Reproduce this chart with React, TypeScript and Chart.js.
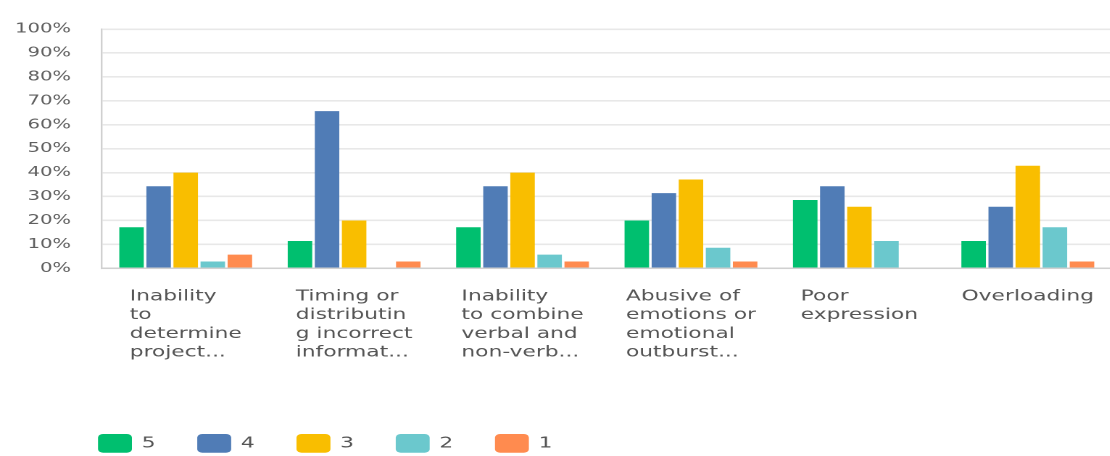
import React, { useEffect, useRef } from "react";
import { Chart, registerables } from "chart.js";

Chart.register(...registerables);

// ---- data ----
const categories: string[][] = [
  ["Inability", "to", "determine", "project..."],
  ["Timing or", "distributin", "g incorrect", "informat..."],
  ["Inability", "to combine", "verbal and", "non-verb..."],
  ["Abusive of", "emotions or", "emotional", "outburst..."],
  ["Poor", "expression"],
  ["Overloading"],
];
const seriesLabels = ["5", "4", "3", "2", "1"];
const seriesColors = ["#00BF6F", "#507CB6", "#F9BE00", "#6BC8CD", "#FF8B4F"];
const values5 = [17.14, 11.43, 17.14, 20.0, 28.57, 11.43];
const values4 = [34.29, 65.71, 34.29, 31.43, 34.29, 25.71];
const values3 = [40.0, 20.0, 40.0, 37.14, 25.71, 42.86];
const values2 = [2.86, 0, 5.71, 8.57, 11.43, 17.14];
const values1 = [5.71, 2.86, 2.86, 2.86, 0, 2.86];
const yMin = 0;
const yMax = 100;
const yStep = 10;

// ---- layout (canvas is drawn narrow and stretched horizontally like the reference) ----
const SX = 1.45;
const CW = 767;
const CH = 456;
const FONT = "'DejaVu Sans', sans-serif";

const customPlugin = {
  id: "blockLabelsAndLegend",
  afterDraw(chart: any) {
    const ctx = chart.ctx as CanvasRenderingContext2D;
    const xs = chart.scales.x;
    ctx.save();
    // category labels: block centered under the group, lines left-aligned
    ctx.font = `15px ${FONT}`;
    ctx.fillStyle = "#555555";
    ctx.textAlign = "left";
    ctx.textBaseline = "alphabetic";
    categories.forEach((lines, i) => {
      const cx = xs.getPixelForValue(i);
      const w = Math.max(...lines.map((l) => ctx.measureText(l).width));
      const left = cx - w / 2;
      lines.forEach((l, j) => ctx.fillText(l, left, xs.top + 32.2 + j * 18.7));
    });
    // legend
    const boxW = 23.4;
    const boxH = 18.7;
    const boxTop = 434;
    const startX = 67.6;
    const pitch = 68.45;
    ctx.font = `15px ${FONT}`;
    ctx.textBaseline = "middle";
    chart.data.datasets.forEach((ds: any, i: number) => {
      const bx = startX + i * pitch;
      ctx.fillStyle = ds.backgroundColor;
      ctx.beginPath();
      (ctx as any).roundRect(bx, boxTop, boxW, boxH, 3.5);
      ctx.fill();
      ctx.fillStyle = "#555555";
      ctx.fillText(ds.label, bx + boxW + 6.7, boxTop + boxH / 2 + 0.5);
    });
    ctx.restore();
  },
};

export default function App() {
  const ref = useRef<HTMLCanvasElement | null>(null);

  useEffect(() => {
    const canvas = ref.current;
    if (!canvas) return;
    const seriesValues = [values5, values4, values3, values2, values1];
    const chart = new Chart(canvas, {
      type: "bar",
      data: {
        labels: categories.map((c) => c.join(" ")),
        datasets: seriesLabels.map((label, i) => ({
          label,
          data: seriesValues[i],
          backgroundColor: seriesColors[i],
          borderWidth: 0,
          categoryPercentage: 0.804,
          barPercentage: 0.905,
        })),
      },
      options: {
        responsive: false,
        devicePixelRatio: 2,
        animation: false,
        layout: { padding: { top: 15, left: 0, right: 0, bottom: 0 } },
        plugins: {
          legend: { display: false },
          tooltip: { enabled: false },
        },
        scales: {
          x: {
            afterFit: (s: any) => {
              s.height = CH - 268.3;
            },
            grid: { display: false },
            border: { display: true, color: "#d0d0d0", width: 1.5 },
            ticks: { display: false },
          },
          y: {
            min: yMin,
            max: yMax,
            afterFit: (s: any) => {
              s.width = 70;
            },
            grid: { color: "#e8e8e8", lineWidth: 1.6, drawTicks: false },
            border: { display: true, color: "#d0d0d0", width: 1.2 },
            ticks: {
              stepSize: yStep,
              padding: 21,
              color: "#5f5f5f",
              font: { family: FONT, size: 13.5 },
              callback: (v: any) => `${v}%`,
            },
          },
        },
      },
      plugins: [customPlugin],
    });
    return () => chart.destroy();
  }, []);

  return (
    <div
      style={{
        position: "fixed",
        left: 0,
        top: 0,
        width: 1110,
        height: CH,
        overflow: "hidden",
        background: "#ffffff",
      }}
    >
      <canvas
        ref={ref}
        width={CW}
        height={CH}
        style={{ width: `${CW * SX}px`, height: `${CH}px` }}
      />
    </div>
  );
}
